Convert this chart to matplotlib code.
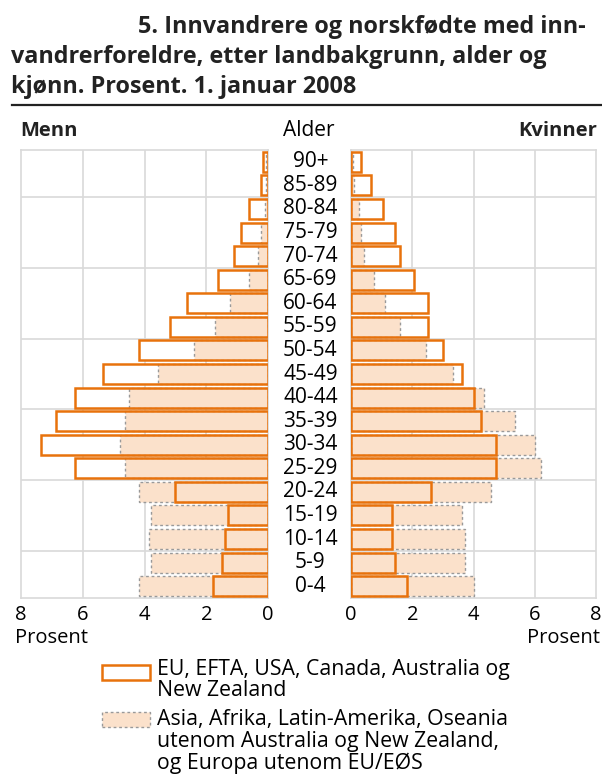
import matplotlib
matplotlib.use("Agg")
import matplotlib.pyplot as plt
from matplotlib.patches import Rectangle
import numpy as np

plt.rcParams['font.family'] = ['Open Sans', 'DejaVu Sans']

ages = ["0-4", "5-9", "10-14", "15-19", "20-24", "25-29", "30-34", "35-39",
        "40-44", "45-49", "50-54", "55-59", "60-64", "65-69", "70-74",
        "75-79", "80-84", "85-89", "90+"]
# EU, EFTA, USA, Canada, Australia og New Zealand
men_eu = [1.79, 1.48, 1.40, 1.31, 3.02, 6.25, 7.35, 6.88, 6.25, 5.34, 4.17,
          3.17, 2.63, 1.63, 1.09, 0.86, 0.63, 0.24, 0.15]
women_eu = [1.83, 1.44, 1.35, 1.35, 2.60, 4.72, 4.72, 4.25, 4.01, 3.64, 3.00,
            2.52, 2.53, 2.06, 1.59, 1.44, 1.03, 0.65, 0.34]
# Asia, Afrika, Latin-Amerika, Oseania ... og Europa utenom EU/EØS
men_asia = [4.17, 3.80, 3.87, 3.80, 4.17, 4.64, 4.80, 4.64, 4.50, 3.56, 2.40,
            1.72, 1.24, 0.63, 0.34, 0.24, 0.11, 0.05, 0.05]
women_asia = [4.03, 3.72, 3.72, 3.64, 4.58, 6.22, 6.00, 5.37, 4.35, 3.33, 2.46,
              1.61, 1.10, 0.74, 0.41, 0.34, 0.26, 0.09, 0.07]
xticks = [0, 2, 4, 6, 8]

ORANGE = "#E8720C"
PEACH = "#FBE1CB"
GRID = "#D9D9D9"

fig = plt.figure(figsize=(6.02, 7.76), dpi=100)
axL = fig.add_axes([21/602, 1-598/776, 247/602, 448/776])
axR = fig.add_axes([351/602, 1-598/776, 245/602, 448/776])

y = np.arange(len(ages))
h = 0.85
for ax, eu, asia in [(axL, men_eu, men_asia), (axR, women_eu, women_asia)]:
    ax.barh(y, eu, height=h, color="white", edgecolor="none", zorder=2)
    ax.barh(y, asia, height=h, color=PEACH, edgecolor="#999999",
            linestyle=(0, (2, 2)), linewidth=1.0, zorder=3)
    ax.barh(y, eu, height=h, fill=False, edgecolor=ORANGE, linewidth=1.8, zorder=4)
    ax.set_xlim(0, 8)
    ax.set_ylim(-0.5, len(ages) - 0.5)
    ax.set_xticks(xticks)
    ax.set_xticklabels([str(t) for t in xticks], fontsize=14.5)
    ax.set_yticks([])
    for yl in [1.5, 4.5, 7.5, 10.5, 13.5, 16.5]:
        ax.axhline(yl, color=GRID, lw=1.2, zorder=1)
    for xl in [2, 4, 6]:
        ax.axvline(xl, color=GRID, lw=1.2, zorder=1)
    for s in ax.spines.values():
        s.set_color(GRID)
        s.set_linewidth(1.2)
    ax.tick_params(axis='x', length=0, pad=5)

axL.invert_xaxis()

# Age labels between the panels
for yi, a in zip(y, ages):
    axL.annotate(a, xy=(0, yi), xycoords='data', xytext=(30.5, 0),
                 textcoords='offset points', ha='center', va='center',
                 fontsize=15, color="black")

# Title
tkw = dict(va='center', fontsize=16.8, fontweight='bold', color="#222222")
fig.text(586/602, 1-27/776, "5. Innvandrere og norskfødte med inn-", ha='right', **tkw)
fig.text(11/602, 1-57/776, "vandrerforeldre, etter landbakgrunn, alder og", ha='left', **tkw)
fig.text(11/602, 1-87/776, "kjønn. Prosent. 1. januar 2008", ha='left', **tkw)
fig.add_artist(plt.Line2D([12/602, 1.0], [1-105/776, 1-105/776],
                          color="#222222", lw=1.6))

fig.text(20/602, 1-131/776, "Menn", ha='left', va='center', fontsize=14.5,
         fontweight='bold', color="#222222")
fig.text(309/602, 1-131/776, "Alder", ha='center', va='center', fontsize=15)
fig.text(597/602, 1-131/776, "Kvinner", ha='right', va='center', fontsize=14.5,
         fontweight='bold', color="#222222")

fig.text(15/602, 1-638/776, "Prosent", ha='left', va='center', fontsize=14.5)
fig.text(600/602, 1-638/776, "Prosent", ha='right', va='center', fontsize=14.5)

# Legend
fig.add_artist(Rectangle((102/602, 1-680/776), 48/602, 15/776,
                         transform=fig.transFigure, facecolor="white",
                         edgecolor=ORANGE, lw=1.8))
fig.add_artist(Rectangle((102/602, 1-727/776), 48/602, 15/776,
                         transform=fig.transFigure, facecolor=PEACH,
                         edgecolor="#999999", lw=1.0, linestyle=(0, (2, 2))))
lkw = dict(ha='left', va='center', fontsize=15.3)
fig.text(157/602, 1-669/776, "EU, EFTA, USA, Canada, Australia og", **lkw)
fig.text(157/602, 1-691/776, "New Zealand", **lkw)
fig.text(157/602, 1-719/776, "Asia, Afrika, Latin-Amerika, Oseania", **lkw)
fig.text(157/602, 1-741/776, "utenom Australia og New Zealand,", **lkw)
fig.text(157/602, 1-763/776, "og Europa utenom EU/EØS", **lkw)

fig.savefig("out.png", dpi=100, facecolor="white")
